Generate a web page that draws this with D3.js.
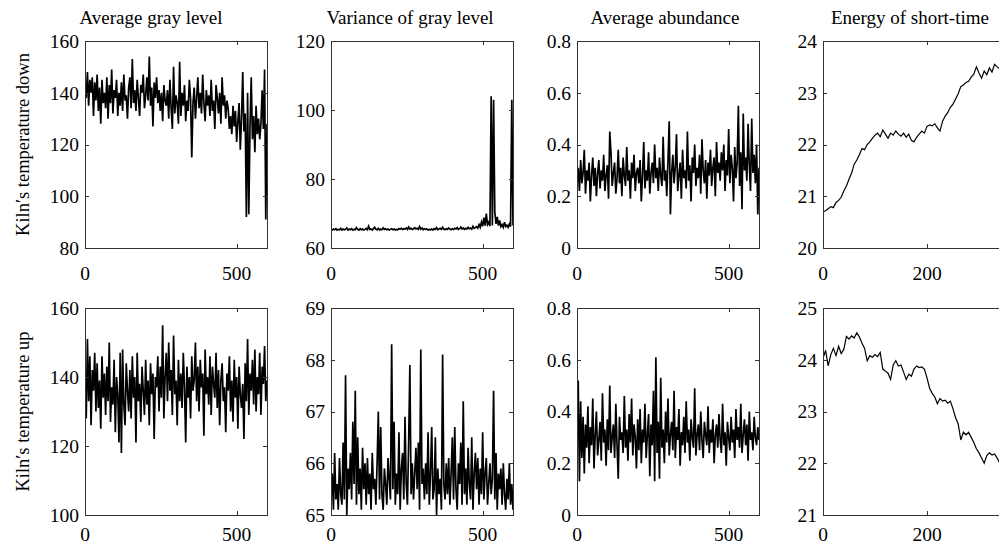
<!DOCTYPE html>
<html><head><meta charset="utf-8">
<script src="https://cdn.jsdelivr.net/npm/d3@7"></script>
<style>body{margin:0;background:#fff}svg{display:block}</style>
</head><body>
<svg id="c" width="999" height="545" font-family="'Liberation Serif', 'DejaVu Serif', serif"></svg>
<script>
// ---------- data ----------
const titles = ["Average gray level", "Variance of gray level", "Average abundance", "Energy of short-time"];
const rowLabels = ["Kiln\u2032s temperature down", "Kiln\u2032s temperature up"];
const sampleStep = 4;      // samples 0..600
const energyStep = 5;      // samples 0..350

const grayDown = [143,138,148,135,145,140,146,131,144,137,147,133,142,128,145,136,140,134,146,130,
143,136,149,132,141,138,145,131,140,135,144,133,147,137,139,130,142,146,134,153,
136,141,133,145,138,131,143,140,147,134,139,146,137,154,135,142,127,144,138,146,
136,141,133,140,129,143,137,135,141,130,145,134,126,150,132,139,136,128,152,131,
140,135,143,129,137,133,145,138,115,136,142,130,138,146,134,140,132,147,136,129,
141,135,139,131,145,133,137,126,143,138,132,140,128,146,135,139,130,137,134,126,
131,124,135,127,133,121,129,136,118,130,148,125,132,92,140,93,127,146,122,131,
117,135,124,130,122,128,141,126,149,91,128];

const varDown = [65.4,65.2,65.5,65.3,65.6,65.2,65.4,65.3,65.7,65.2,65.5,65.3,65.4,65.8,65.2,65.5,65.3,65.6,65.2,65.4,
65.3,65.9,65.4,65.2,65.6,65.3,65.5,65.2,65.4,65.7,65.3,66.3,65.4,65.5,65.2,65.6,66.0,65.4,65.3,65.7,
65.2,65.5,65.3,65.8,65.4,65.6,65.3,65.5,65.2,65.4,65.6,65.3,65.5,65.2,65.4,65.3,65.6,65.5,65.7,65.4,
65.6,65.5,65.8,65.4,66.1,65.5,65.7,65.4,65.6,65.9,65.5,65.7,65.4,66.2,65.5,65.8,65.3,65.6,65.4,65.5,
65.2,65.4,65.3,65.5,65.2,65.6,65.4,65.9,65.3,65.5,65.7,65.4,66.0,65.5,65.3,65.6,65.4,65.8,65.5,65.3,
65.6,65.4,65.7,65.5,65.9,65.4,65.6,66.1,65.5,65.8,65.4,65.7,65.5,66.0,65.6,65.8,65.5,66.3,65.7,65.9,
66.2,65.8,66.8,66.0,67.5,66.3,68.8,66.5,70.0,66.8,67.5,66.4,104,66.5,103,70.5,67.0,69.0,66.5,68.0,
66.2,66.8,66.0,67.5,66.2,66.6,66.0,66.9,66.2,103,66.5];

const abundDown = [.27,.31,.22,.34,.25,.29,.38,.21,.30,.26,.33,.18,.28,.35,.24,.31,.20,.29,.34,.23,
.30,.26,.36,.22,.28,.32,.19,.45,.37,.24,.29,.33,.21,.27,.38,.25,.31,.20,.35,.28,
.24,.39,.26,.30,.19,.33,.27,.36,.22,.29,.31,.25,.34,.18,.28,.41,.23,.30,.26,.37,
.21,.29,.33,.25,.40,.27,.31,.22,.35,.28,.24,.43,.26,.30,.20,.34,.49,.13,.29,.36,
.25,.31,.44,.22,.28,.33,.19,.38,.27,.30,.23,.45,.26,.32,.18,.35,.29,.40,.24,.31,
.27,.36,.21,.42,.30,.25,.34,.19,.33,.28,.38,.24,.31,.35,.20,.41,.29,.33,.26,.37,
.30,.40,.22,.34,.28,.46,.25,.36,.31,.18,.39,.27,.33,.55,.24,.37,.15,.52,.30,.35,
.26,.48,.32,.22,.50,.29,.36,.25,.40,.13,.31];

const energyDown = [20.70,20.72,20.76,20.80,20.78,20.88,20.92,20.98,21.10,21.20,21.33,21.45,21.62,21.70,21.80,21.92,21.90,22.00,22.05,22.12,
22.18,22.22,22.15,22.28,22.20,22.12,22.22,22.18,22.26,22.20,22.16,22.22,22.14,22.20,22.08,22.05,22.14,22.20,22.26,22.22,
22.35,22.38,22.36,22.40,22.32,22.26,22.45,22.55,22.62,22.72,22.78,22.88,22.98,23.12,23.15,23.20,23.22,23.30,23.36,23.50,
23.38,23.28,23.42,23.35,23.48,23.40,23.55,23.50,23.46,23.44,23.48];

const grayUp = [140,128,151,133,146,126,142,136,147,130,144,131,139,125,146,134,141,129,143,133,
150,127,137,132,145,124,140,135,121,147,118,148,132,126,144,136,130,142,128,146,
134,140,121,147,133,138,127,143,136,129,145,132,139,126,144,135,141,122,140,137,
146,130,143,134,155,128,140,147,133,150,136,142,129,152,135,139,126,145,133,141,
131,147,137,121,143,134,140,128,146,136,139,150,133,143,130,145,137,141,123,148,
135,140,132,146,129,143,138,134,147,131,142,126,139,144,133,137,124,141,136,146,
130,139,127,145,134,140,125,143,135,131,138,122,144,133,151,129,141,136,145,132,
148,130,140,135,147,129,143,138,149,133,139];

const varUp = [65.4,65.8,65.1,66.2,65.3,65.6,65.1,66.1,65.4,65.2,66.4,65.3,67.7,65.0,65.9,65.5,66.2,65.3,66.8,65.6,
67.4,65.2,66.5,65.4,65.9,65.1,66.3,65.5,66.0,65.2,66.1,65.4,65.8,65.1,66.2,65.5,65.7,65.2,66.0,67.0,
65.3,66.7,65.4,65.1,65.9,65.6,65.2,66.1,65.7,65.3,68.3,65.5,66.8,65.2,65.8,65.4,66.6,65.1,65.9,66.2,
65.3,66.9,65.6,65.2,66.4,67.9,65.4,66.0,65.3,65.8,66.3,65.5,66.4,65.1,68.2,65.6,65.9,65.3,66.0,65.4,
66.6,65.2,65.8,66.7,65.3,65.5,66.5,65.0,65.9,65.4,65.7,65.1,68.1,65.6,65.3,66.0,65.4,66.1,65.2,65.8,
66.5,65.3,66.7,65.5,65.1,66.0,65.6,66.4,65.2,67.2,65.4,65.9,65.2,66.3,65.6,65.3,66.5,65.1,65.8,66.2,
65.5,66.1,65.2,65.9,65.4,66.6,65.3,65.8,66.1,65.2,65.6,66.0,65.4,65.7,67.4,65.3,66.2,65.1,65.8,65.5,
65.9,65.2,66.0,65.4,65.1,65.7,65.3,66.0,65.2,65.6,65.1];

const abundUp = [.30,.52,.13,.44,.22,.38,.16,.35,.26,.42,.20,.34,.27,.45,.18,.31,.40,.23,.29,.36,
.21,.47,.28,.33,.19,.37,.25,.50,.24,.30,.35,.22,.43,.27,.14,.38,.29,.32,.24,.46,
.26,.33,.21,.39,.28,.45,.23,.35,.30,.18,.37,.25,.41,.20,.33,.28,.43,.22,.31,.39,
.15,.35,.27,.48,.13,.61,.24,.36,.14,.53,.26,.33,.20,.40,.28,.45,.23,.31,.36,.25,
.48,.22,.34,.29,.41,.19,.32,.27,.38,.24,.44,.28,.33,.21,.37,.30,.26,.49,.23,.31,
.35,.25,.40,.29,.22,.36,.31,.27,.42,.24,.33,.28,.37,.20,.31,.35,.26,.39,.29,.24,
.43,.27,.32,.19,.36,.30,.25,.38,.28,.33,.22,.41,.29,.34,.26,.43,.24,.31,.37,.27,
.35,.21,.40,.29,.32,.25,.38,.30,.27,.34,.29];

const energyUp = [24.03,24.18,23.88,24.10,24.22,24.08,24.26,24.12,24.20,24.45,24.40,24.46,24.42,24.52,24.44,24.32,24.22,23.98,24.08,24.05,
24.10,24.06,24.14,23.82,23.78,23.74,23.62,23.90,23.98,23.88,23.90,23.76,23.62,23.72,23.68,23.82,23.88,23.85,23.86,23.82,
23.65,23.45,23.35,23.28,23.15,23.25,23.20,23.22,23.16,23.20,23.05,22.88,22.76,22.45,22.60,22.55,22.60,22.50,22.40,22.28,
22.20,22.10,22.00,22.15,22.20,22.16,22.18,22.10,22.00,21.96,21.98];

const yDomains = [[80,160],[60,120],[0,0.8],[20,24],[100,160],[65,69],[0,0.8],[21,25]];
const yTicks = [[80,100,120,140,160],[60,80,100,120],[0,0.2,0.4,0.6,0.8],[20,21,22,23,24],
                [100,120,140,160],[65,66,67,68,69],[0,0.2,0.4,0.6,0.8],[21,22,23,24,25]];
const xDomains = [[0,600],[0,600],[0,600],[0,350]];
const xTicks = [[0,500],[0,500],[0,500],[0,200,400]];
const series = [grayDown, varDown, abundDown, energyDown, grayUp, varUp, abundUp, energyUp];
const steps = [sampleStep, sampleStep, sampleStep, energyStep];

// ---------- layout ----------
const lefts = [85, 331, 577, 823], pw = 182, tops = [41, 308], ph = 207;
const titleX = [151, 410, 665, 910];
const xLabelOff = [32, 26];
const svg = d3.select("#c");
const defs = svg.append("defs");
const fs = 19.5;

titles.forEach((t, j) => svg.append("text").attr("x", titleX[j]).attr("y", 24)
  .attr("text-anchor", "middle").attr("font-size", 19).text(t));
rowLabels.forEach((t, r) => svg.append("text")
  .attr("transform", `translate(29,${tops[r] + ph / 2}) rotate(-90)`)
  .attr("text-anchor", "middle").attr("font-size", 18.5).text(t));

const fmt = v => String(+v.toFixed(2));

for (let r = 0; r < 2; r++) {
  for (let j = 0; j < 4; j++) {
    const k = r * 4 + j;
    const x0 = lefts[j], y0 = tops[r];
    const x = d3.scaleLinear().domain(xDomains[j]).range([x0, x0 + pw]);
    const y = d3.scaleLinear().domain(yDomains[k]).range([y0 + ph, y0]);
    const g = svg.append("g");
    const cid = "clip" + k;
    defs.append("clipPath").attr("id", cid).append("rect")
      .attr("x", x0).attr("y", y0).attr("width", pw).attr("height", ph);
    const data = series[k];
    const line = d3.line().x((d, i) => x(i * steps[j])).y(d => y(d));
    g.append("path").attr("d", line(data)).attr("clip-path", `url(#${cid})`)
      .attr("fill", "none").attr("stroke", "#000").attr("stroke-width", j === 3 ? 1.2 : 1.7)
      .attr("stroke-linejoin", "miter");
    g.append("rect").attr("x", x0 + 0.5).attr("y", y0 + 0.5).attr("width", pw).attr("height", ph)
      .attr("fill", "none").attr("stroke", "#333").attr("stroke-width", 1);
    const tl = 4;
    yTicks[k].forEach(v => {
      const yy = Math.round(y(v)) + 0.5;
      g.append("line").attr("x1", x0).attr("x2", x0 + tl).attr("y1", yy).attr("y2", yy).attr("stroke", "#333");
      g.append("line").attr("x1", x0 + pw - tl).attr("x2", x0 + pw).attr("y1", yy).attr("y2", yy).attr("stroke", "#333");
      g.append("text").attr("x", x0 - 6).attr("y", y(v)).attr("dy", "0.35em")
        .attr("text-anchor", "end").attr("font-size", fs).text(fmt(v));
    });
    xTicks[j].forEach(v => {
      const xx = Math.round(x(v)) + 0.5;
      if (xx > 1000) return;
      g.append("line").attr("x1", xx).attr("x2", xx).attr("y1", y0).attr("y2", y0 + tl).attr("stroke", "#333");
      g.append("line").attr("x1", xx).attr("x2", xx).attr("y1", y0 + ph - tl).attr("y2", y0 + ph).attr("stroke", "#333");
      g.append("text").attr("x", x(v)).attr("y", y0 + ph + xLabelOff[r])
        .attr("text-anchor", "middle").attr("font-size", fs).text(fmt(v));
    });
  }
}
</script>
</body></html>
